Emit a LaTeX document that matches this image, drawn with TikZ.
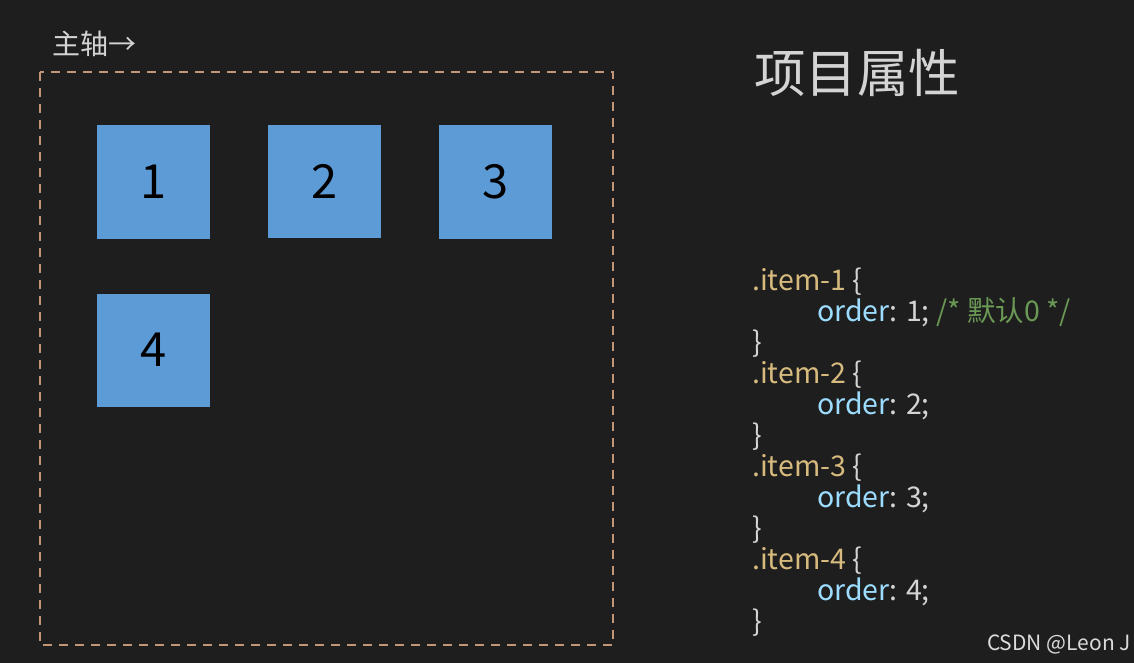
\documentclass[tikz,border=0pt]{standalone}
\usepackage{fontspec}
\setmainfont{Noto Sans CJK SC}
\definecolor{bgdark}{RGB}{30,30,30}
\definecolor{itemblue}{RGB}{93,155,215}
\definecolor{framebrown}{RGB}{196,150,120}
\definecolor{selgold}{RGB}{215,186,125}
\definecolor{propblue}{RGB}{156,220,254}
\definecolor{plaingray}{RGB}{212,212,212}
\definecolor{cmtgreen}{RGB}{106,153,85}
\usetikzlibrary{positioning}

\begin{document}
\begin{tikzpicture}[x=1pt,y=-1pt,
  itembox/.style={fill=itemblue,draw=none,minimum size=113pt,inner sep=0pt,
    font=\fontsize{47}{50}\selectfont,text=black},
  codeline/.style={anchor=base west,inner sep=0pt,font=\fontsize{28.5}{31}\selectfont,text=plaingray}]
  \useasboundingbox[fill=bgdark] (0,0) rectangle (1134,663);
  % main axis and container
  \node[anchor=west,inner sep=0pt,font=\fontsize{28}{30}\selectfont,text=plaingray] (axis) at (52,44) {主轴→};
  \draw[framebrown,dashed,dash pattern=on 9pt off 7pt,line width=1.3pt] (40,72) rectangle (613,645);
  \foreach \n/\x/\y in {1/153.5/182, 2/324.5/181.5, 3/495.5/182, 4/153.5/350} {
    \node[itembox] (item\n) at (\x,\y) {\n};
  }
  % title
  \node[anchor=west,inner sep=0pt,font=\fontsize{51.5}{56}\selectfont,text=plaingray] (title) at (754,73) {项目属性};
  % css code
  \node[codeline] (sel1) at (752,290) {\textcolor{selgold}{.item-1} \{};
  \node[codeline] (prop1) at (817,321) {\textcolor{propblue}{order}: 1; \textcolor{cmtgreen}{/* 默认0 */}};
  \node[codeline] (end1) at (752,352) {\}};
  \node[codeline] (sel2) at (752,383) {\textcolor{selgold}{.item-2} \{};
  \node[codeline] (prop2) at (817,414) {\textcolor{propblue}{order}: 2;};
  \node[codeline] (end2) at (752,445) {\}};
  \node[codeline] (sel3) at (752,476) {\textcolor{selgold}{.item-3} \{};
  \node[codeline] (prop3) at (817,507) {\textcolor{propblue}{order}: 3;};
  \node[codeline] (end3) at (752,538) {\}};
  \node[codeline] (sel4) at (752,569) {\textcolor{selgold}{.item-4} \{};
  \node[codeline] (prop4) at (817,600) {\textcolor{propblue}{order}: 4;};
  \node[codeline] (end4) at (752,631) {\}};
  % watermark
  \node[anchor=base east,inner sep=0pt,font=\fontsize{21}{24}\selectfont,text=plaingray!85] (mark) at (1131,650) {CSDN @Leon J};
\end{tikzpicture}
\end{document}
